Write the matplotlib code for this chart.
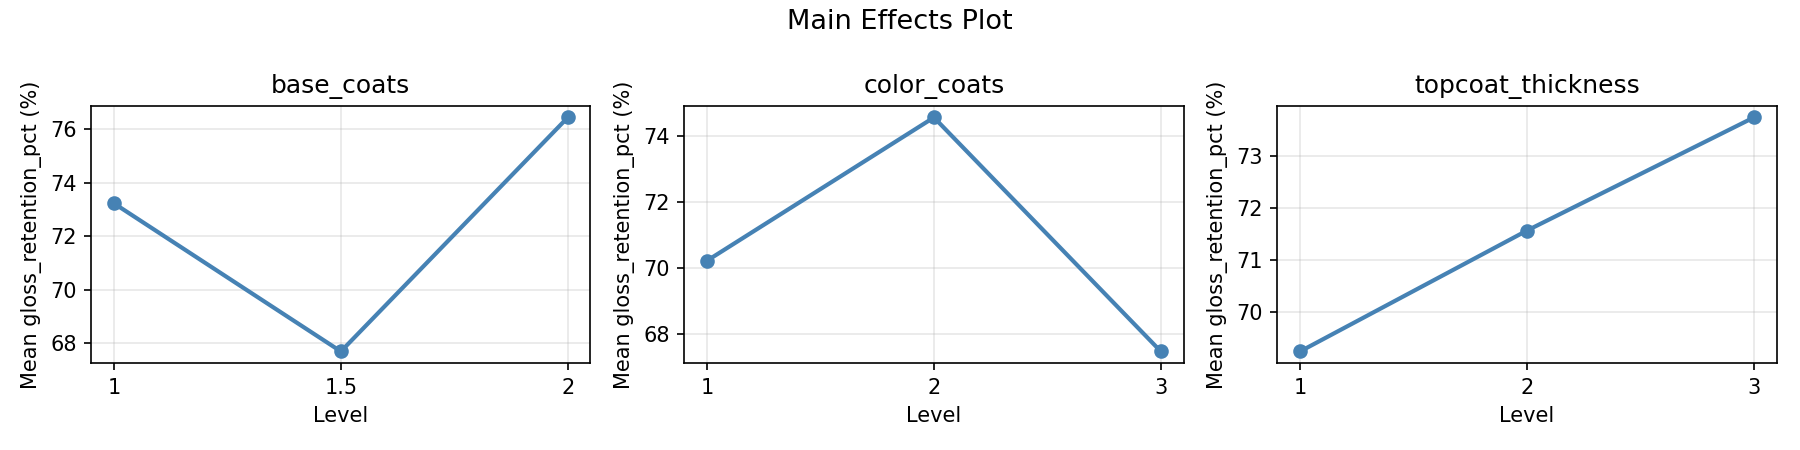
import matplotlib
matplotlib.use("Agg")
import matplotlib.pyplot as plt

# factor names and their levels
factors = ["base_coats", "color_coats", "topcoat_thickness"]
base_coats_levels = [1, 1.5, 2]
color_coats_levels = [1, 2, 3]
topcoat_thickness_levels = [1, 2, 3]

# mean gloss retention per level
base_coats_means = [73.23, 67.68, 76.45]
color_coats_means = [70.22, 74.56, 67.47]
topcoat_thickness_means = [69.24, 71.57, 73.75]

levels = [base_coats_levels, color_coats_levels, topcoat_thickness_levels]
means = [base_coats_means, color_coats_means, topcoat_thickness_means]

fig, axes = plt.subplots(1, 3, figsize=(12, 3), dpi=150)

for ax, name, lv, m in zip(axes, factors, levels, means):
    ax.plot(lv, m, marker="o", color="steelblue", linewidth=2, markersize=6)
    ax.set_title(name)
    ax.set_xlabel("Level")
    ax.set_ylabel("Mean gloss_retention_pct (%)")
    ax.set_xticks(lv)
    ax.set_xticklabels([f"{v:g}" for v in lv])
    ax.grid(True, alpha=0.3)

fig.suptitle("Main Effects Plot", fontsize=13)
plt.subplots_adjust(left=0.0507, right=0.987, bottom=0.193, top=0.765, wspace=0.188)
plt.savefig("out.png")
